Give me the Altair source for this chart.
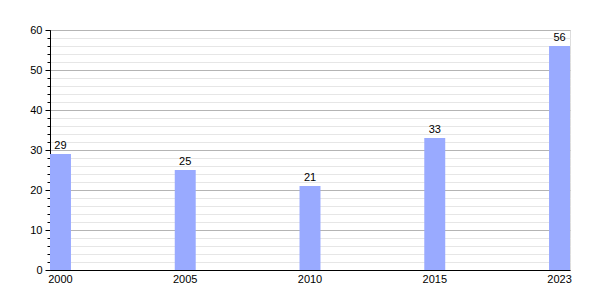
import altair as alt
import pandas as pd

years = ["2000", "2005", "2010", "2015", "2023"]
values = [29, 25, 21, 33, 56]
major_ticks = [0, 10, 20, 30, 40, 50, 60]
minor_ticks = list(range(0, 61, 2))

df = pd.DataFrame({"year": years, "value": values})

FONT = "Liberation Sans"

x = alt.X(
    "year:N",
    sort=years,
    title=None,
    scale=alt.Scale(paddingInner=0.832, paddingOuter=0, align=0),
    axis=alt.Axis(labelAngle=0, ticks=False, labelPadding=3, domainColor="#000000",
                  labelFont=FONT, labelFontSize=11, labelColor="#000000", grid=False),
)
yscale = alt.Scale(domain=[0, 60], nice=False)

minor = alt.Chart(df).mark_bar(opacity=0).encode(
    x=x,
    y=alt.Y("value:Q", scale=yscale, title=None,
            axis=alt.Axis(values=minor_ticks, labels=False, domain=False, tickSize=3,
                          tickColor="#000000", grid=True, gridColor="#e6e6e6",
                          orient="left", zindex=0)),
)

bars = alt.Chart(df).mark_bar(color="#99aaff").encode(
    x=x,
    y=alt.Y("value:Q", scale=yscale, title=None,
            axis=alt.Axis(values=major_ticks, tickSize=5, tickColor="#000000",
                          domainColor="#000000", labelFont=FONT, labelFontSize=11,
                          labelColor="#000000", labelPadding=3, grid=True,
                          gridColor="#b4b4b4", orient="left", zindex=0)),
)

text = alt.Chart(df).mark_text(baseline="bottom", dy=-3, font=FONT, fontSize=11,
                               color="#000000").encode(
    x=x,
    y=alt.Y("value:Q", scale=yscale, axis=None),
    text="value:Q",
)

chart = alt.layer(minor, bars, text).resolve_axis(y="independent").properties(
    width=520,
    height=240,
    autosize=alt.AutoSizeParams(type="none"),
    padding={"left": 50, "top": 30, "right": 30, "bottom": 30},
).configure_view(stroke=None).configure(background="#ffffff")

chart.save("out.html", embed_options={"renderer": "svg", "actions": False})
